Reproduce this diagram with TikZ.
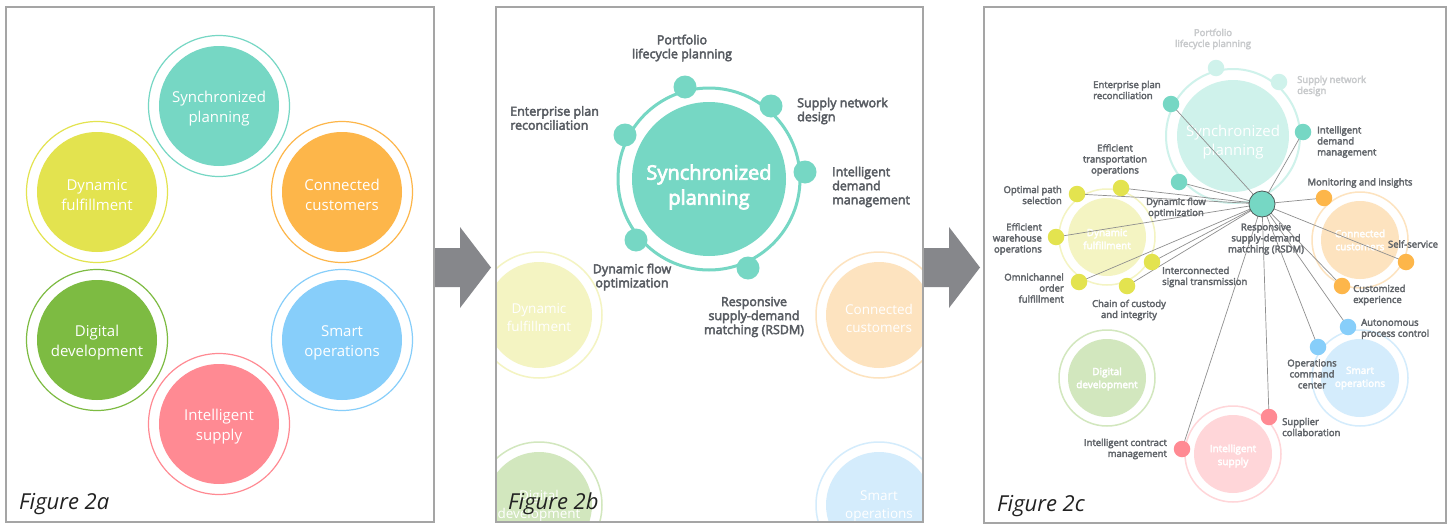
\documentclass[tikz,border=0pt]{standalone}
\usepackage{fontspec}
\setmainfont{Open Sans}
\newfontfamily\osb{Open Sans}[FakeBold=3.5]
\definecolor{teal1}{HTML}{76D7C4}
\definecolor{orange1}{HTML}{FDB64A}
\definecolor{yellow1}{HTML}{E3E34F}
\definecolor{green1}{HTML}{7DBB42}
\definecolor{blue1}{HTML}{87CEFA}
\definecolor{pink1}{HTML}{FF8A93}
\definecolor{teal2}{HTML}{CFF2EB}
\definecolor{orange2}{HTML}{FDE3BF}
\definecolor{yellow2}{HTML}{F4F4C2}
\definecolor{green2}{HTML}{D2E7BE}
\definecolor{blue2}{HTML}{D4ECFC}
\definecolor{pink2}{HTML}{FFD6D9}
\definecolor{labtwo}{HTML}{595D63}
\definecolor{labthree}{HTML}{63676C}
\definecolor{labfade}{HTML}{C9CBCD}
\definecolor{framec}{HTML}{A5A5A5}
\definecolor{arrowc}{HTML}{86878B}
\definecolor{linec}{HTML}{8F8F8F}
\definecolor{hubc}{HTML}{4F5A58}
\definecolor{figc}{HTML}{222222}
\pgfdeclarelayer{Lzero}
\pgfdeclarelayer{Lone}
\pgfsetlayers{Lzero,Lone,main}
\begin{document}
\begin{tikzpicture}[x=1pt,y=-1pt,
  big/.style={circle, inner sep=0pt},
  ctext/.style={text=white, align=center, inner sep=0pt},
  ringdot/.style={circle, inner sep=0pt, minimum size=23pt, fill=teal1},
  sdot/.style={circle, inner sep=0pt, minimum size=16.5pt},
  labtw/.style={text=labtwo, font=\osb\fontsize{12.5}{14}\selectfont, inner sep=0pt},
  labth/.style={text=labthree, font=\osb\fontsize{9.5}{11}\selectfont, inner sep=0pt},
  link/.style={draw=linec, line width=0.7pt},
  panelframe/.style={draw=framec, line width=1.3pt},
  figlab/.style={font=\itshape\fontsize{22}{26}\selectfont, text=figc, anchor=base west, inner sep=0pt},
  bigarrow/.style={fill=arrowc}
]
\begin{pgfonlayer}{Lzero}
\path[use as bounding box, fill=white] (0,0) rectangle (1452,525);
\end{pgfonlayer}

% ---------- arrows
\fill[bigarrow] (433,248) -- (460,248) -- (460,227) -- (491,267.5) -- (460,308) -- (460,287) -- (433,287) -- cycle;
\fill[bigarrow] (923,248) -- (949,248) -- (949,227) -- (980,267.5) -- (949,308) -- (949,287) -- (923,287) -- cycle;

% ---------- Panel a
\begin{scope}[every node/.style={big, minimum size=120pt}]
\node[fill=teal1] (a-sp) at (219,106) {};
\node[fill=orange1] (a-cc) at (342,192) {};
\node[fill=yellow1] (a-df) at (97,192) {};
\node[fill=green1] (a-dd) at (97,340) {};
\node[fill=blue1] (a-so) at (342,340) {};
\node[fill=pink1] (a-is) at (219,424) {};
\end{scope}
\begin{scope}[every node/.style={ctext, font=\fontsize{15}{20}\selectfont}]
\node (a-spt) at (219,109) {Synchronized\\planning};
\node (a-cct) at (342,195) {Connected\\customers};
\node (a-dft) at (97,195) {Dynamic\\fulfillment};
\node (a-ddt) at (97,343) {Digital\\development};
\node (a-sot) at (342,343) {Smart\\operations};
\node (a-ist) at (219,427) {Intelligent\\supply};
\end{scope}
\draw[teal1, line width=1.2pt] (a-sp.center) circle[radius=70.5];
\draw[orange1, line width=1.2pt] (a-cc.center) circle[radius=70.5];
\draw[yellow1, line width=1.2pt] (a-df.center) circle[radius=70.5];
\draw[green1, line width=1.2pt] (a-dd.center) circle[radius=70.5];
\draw[blue1, line width=1.2pt] (a-so.center) circle[radius=70.5];
\draw[pink1, line width=1.2pt] (a-is.center) circle[radius=70.5];
\node[figlab] (fa) at (19,509) {Figure 2a};

% ---------- Panel b
\begin{scope}
\clip (496,7) rectangle (923,522);
\begin{scope}[every node/.style={big, minimum size=106pt}]
\node[fill=yellow2] (b-df) at (539,315) {};
\node[fill=orange2] (b-cc) at (879,315) {};
\node[fill=green2] (b-dd) at (539,505) {};
\node[fill=blue2] (b-so) at (879,505) {};
\end{scope}
\begin{scope}[every node/.style={ctext, font=\fontsize{13.5}{18}\selectfont}]
\node (b-dft) at (539,318) {Dynamic\\fulfillment};
\node (b-cct) at (879,318) {Connected\\customers};
\node (b-ddt) at (539,506) {Digital\\development};
\node (b-sot) at (879,506) {Smart\\operations};
\end{scope}
\draw[yellow2, line width=1.5pt] (b-df.center) circle[radius=63];
\draw[orange2, line width=1.5pt] (b-cc.center) circle[radius=63];
\draw[green2, line width=1.5pt] (b-dd.center) circle[radius=63];
\draw[blue2, line width=1.5pt] (b-so.center) circle[radius=63];
\end{scope}
\draw[teal1, line width=3pt] (709,179) circle[radius=91];
\node[big, fill=teal1, minimum size=154pt] (b-sp) at (709,179) {};
\node[ctext, font=\osb\fontsize{20}{25}\selectfont] (b-spt) at (709,187) {Synchronized\\planning};
\node[ringdot] (b-d1) at (685,87) {};
\node[ringdot] (b-d2) at (771,106) {};
\node[ringdot] (b-d3) at (805,172) {};
\node[ringdot] (b-d4) at (748,268) {};
\node[ringdot] (b-d5) at (636,240) {};
\node[ringdot] (b-d6) at (625,135) {};
\node[labtw, align=center] (b-l1) at (682,48) {Portfolio\\lifecycle planning};
\node[labtw, align=left, anchor=west] (b-l2) at (797,111) {Supply network\\design};
\node[labtw, align=left, anchor=west] (b-l3) at (832,187) {Intelligent\\demand\\management};
\node[labtw, align=center] (b-l4) at (754,317) {Responsive\\supply-demand\\matching (RSDM)};
\node[labtw, align=center] (b-l5) at (632,277) {Dynamic flow\\optimization};
\node[labtw, align=left, anchor=west] (b-l6) at (510,118) {Enterprise plan\\reconciliation};
\node[figlab] (fb) at (508,509) {Figure 2b};

% ---------- Panel c
\begin{pgfonlayer}{Lzero}
\begin{scope}[every node/.style={big, minimum size=78pt}]
\node[fill=yellow2] (c-df) at (1107,237) {};
\node[fill=orange2] (c-cc) at (1360,240) {};
\node[fill=green2] (c-dd) at (1107,378) {};
\node[fill=blue2] (c-so) at (1360,378) {};
\node[fill=pink2] (c-is) at (1233,454) {};
\end{scope}
\node[big, fill=teal2, minimum size=112pt] (c-sp) at (1233,136) {};
\begin{scope}[every node/.style={ctext, font=\osb\fontsize{10}{13}\selectfont}]
\node (c-dft) at (1107,239) {Dynamic\\fulfillment};
\node (c-cct) at (1360,240) {Connected\\customers};
\node (c-ddt) at (1107,379) {Digital\\development};
\node (c-sot) at (1360,378) {Smart\\operations};
\node (c-ist) at (1233,456) {Intelligent\\supply};
\end{scope}
\node[ctext, font=\fontsize{15}{19}\selectfont] (c-spt) at (1233,142) {Synchronized\\planning};
\draw[teal2, line width=2pt] (c-sp.center) circle[radius=67];
\draw[yellow2, line width=1.5pt] (c-df.center) circle[radius=48];
\draw[orange2, line width=1.5pt] (c-cc.center) circle[radius=48];
\draw[green2, line width=1.5pt] (c-dd.center) circle[radius=48];
\draw[blue2, line width=1.5pt] (c-so.center) circle[radius=48];
\draw[pink2, line width=1.5pt] (c-is.center) circle[radius=48];
\node[sdot, fill=teal2] (c-fport) at (1216,68) {};
\node[sdot, fill=teal2] (c-fsup) at (1279,82) {};
\end{pgfonlayer}

\node[circle, fill=teal1, draw=hubc, line width=0.8pt, minimum size=26pt, inner sep=0pt] (hub) at (1262,204) {};
\node[sdot, fill=teal1] (d-ent) at (1171,104) {};
\node[sdot, fill=teal1] (d-idm) at (1303,132) {};
\node[sdot, fill=teal1] (d-dfo) at (1179,182) {};
\node[sdot, fill=yellow1] (d-eto) at (1121,188) {};
\node[sdot, fill=yellow1] (d-ops) at (1077,194) {};
\node[sdot, fill=yellow1] (d-ewo) at (1056,237) {};
\node[sdot, fill=yellow1] (d-ist) at (1152,262) {};
\node[sdot, fill=yellow1] (d-oof) at (1079,282) {};
\node[sdot, fill=yellow1] (d-coc) at (1127,286) {};
\node[sdot, fill=orange1] (d-mon) at (1324,198) {};
\node[sdot, fill=orange1] (d-ss) at (1406,262) {};
\node[sdot, fill=orange1] (d-ce) at (1342,286) {};
\node[sdot, fill=blue1] (d-apc) at (1348,327) {};
\node[sdot, fill=blue1] (d-occ) at (1318,347) {};
\node[sdot, fill=pink1] (d-sc) at (1269,417) {};
\node[sdot, fill=pink1] (d-icm) at (1182,449) {};

\begin{pgfonlayer}{Lone}
\foreach \n in {ent,idm,dfo,eto,ops,ewo,ist,oof,coc,mon,ss,ce,apc,occ,sc,icm}
  \draw[link] (hub.center) -- (d-\n.center);
\end{pgfonlayer}

\node[labth, text=labfade, align=center] (l-fport) at (1213,39) {Portfolio\\lifecycle planning};
\node[labth, text=labfade, align=left, anchor=west] (l-fsup) at (1297,86) {Supply network\\design};
\node[labth, align=left, anchor=west] (l-ent) at (1093,90) {Enterprise plan\\reconciliation};
\node[labth, align=left, anchor=west] (l-idm) at (1317,142) {Intelligent\\demand\\management};
\node[labth, align=center] (l-dfo) at (1176,208) {Dynamic flow\\optimization};
\node[labth, align=center] (l-rsdm) at (1266,239) {Responsive\\supply-demand\\matching (RSDM)};
\node[labth, align=center] (l-eto) at (1115,160) {Efficient\\transportation\\operations};
\node[labth, align=right, anchor=east] (l-ops) at (1062,195) {Optimal path\\selection};
\node[labth, align=right, anchor=east] (l-ewo) at (1042,239) {Efficient\\warehouse\\operations};
\node[labth, align=left, anchor=west] (l-ist) at (1162,277) {Interconnected\\signal transmission};
\node[labth, align=right, anchor=east] (l-oof) at (1064,288) {Omnichannel\\order\\fulfillment};
\node[labth, align=center] (l-coc) at (1129,310) {Chain of custody\\and integrity};
\node[labth, align=center] (l-mon) at (1360,183) {Monitoring and insights};
\node[labth, align=center] (l-ss) at (1413,244) {Self-service};
\node[labth, align=left, anchor=west] (l-ce) at (1353,295) {Customized\\experience};
\node[labth, align=left, anchor=west] (l-apc) at (1361,329) {Autonomous\\process control};
\node[labth, align=center] (l-occ) at (1312,374) {Operations\\command\\center};
\node[labth, align=left, anchor=west] (l-sc) at (1282,427) {Supplier\\collaboration};
\node[labth, align=right, anchor=east] (l-icm) at (1167,449) {Intelligent contract\\management};
\node[figlab] (fc) at (997,511) {Figure 2c};

% ---------- frames
\draw[panelframe] (6,7) rectangle (434,522);
\draw[panelframe] (496,7) rectangle (923,522);
\draw[panelframe] (984,7) rectangle (1446,523);
\end{tikzpicture}
\end{document}
